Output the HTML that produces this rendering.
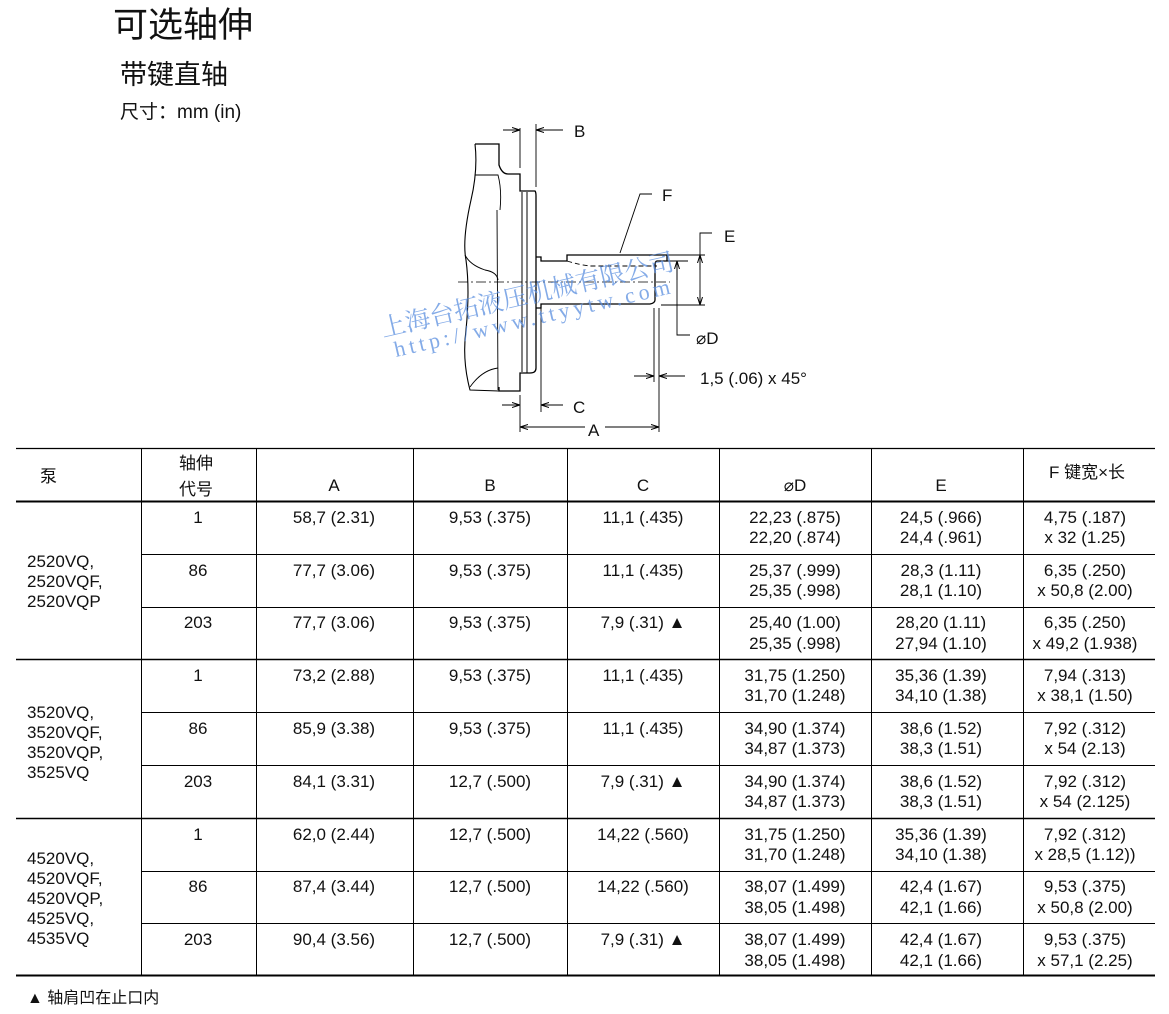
<!DOCTYPE html>
<html><head><meta charset="utf-8"><style>
html,body{margin:0;padding:0;background:#fff;}
svg{display:block;font-family:"Liberation Sans","Noto Sans CJK SC",sans-serif;}
</style></head><body>
<svg width="1169" height="1014" viewBox="0 0 1169 1014" xmlns="http://www.w3.org/2000/svg">
<defs>
<marker id="ar" markerWidth="8" markerHeight="6" refX="8" refY="3" orient="auto" markerUnits="userSpaceOnUse"><path d="M0,0.5 L8,3 L0,5.5" fill="none" stroke="#000" stroke-width="1"/></marker>
</defs>
<g fill="#111">
<text x="113" y="37" font-size="35">可选轴伸</text>
<text x="120" y="84" font-size="27">带键直轴</text>
<text x="120" y="118" font-size="19">尺寸：mm (in)</text>
</g>
<!-- drawing -->
<g fill="none" stroke="#000" stroke-width="1.3">
<path d="M475,144 L499,144 L499,165 Q502,174 508,174 L520,174 L520,191 L535,191 Q536,192 536,196 L536,368 Q536,373 530,373 L520,373 L520,391 L499,391 L499,387"/>
<path d="M475,144 Q478,170 471,200 Q462,240 466,260 Q470,290 466,330 Q462,360 470,390 L499,391" stroke-width="1.1"/>
<path d="M475,175 L498,175 Q502,190 500,210 M497,210 L498,390" stroke-width="0.9"/>
<path d="M465,255 Q470,265 485,270 Q497,272 498,280" stroke-width="0.9"/>
<path d="M470,387 Q482,370 498,368" stroke-width="0.9"/>
<path d="M527,192 L527,373 M522,192 L522,372" stroke-width="1"/>
<path d="M536,257 L541,257 L541,261 L567,261 L567,255 L667,255 L667,261 L657,261 Q655,261 655,266 L655,300 Q655,303 650,304 L541,304 L541,308 L536,308"/>
<path d="M567,261 Q580,265 590,266 L657,266" stroke-dasharray="5,3" stroke-width="0.9"/>
</g>
<g stroke="#000" stroke-width="0.9" fill="none">
<path d="M458,282 L670,282" stroke-dasharray="10,3,2,3" stroke-width="0.7"/>
<path d="M520,128 L520,168 M536,124 L536,187"/>
<path d="M503,130 L520,130" marker-end="url(#ar)"/>
<path d="M563,130 L536,130" marker-end="url(#ar)"/>
<path d="M520,395 L520,432 M541,308 L541,412"/>
<path d="M502,405 L520,405" marker-end="url(#ar)"/>
<path d="M563,405 L541,405" marker-end="url(#ar)"/>
<path d="M659,308 L659,432"/>
<path d="M585,427 L520,427" marker-end="url(#ar)"/>
<path d="M605,427 L659,427" marker-end="url(#ar)"/>
<path d="M654,308 L654,382"/>
<path d="M634,376 L654,376" marker-end="url(#ar)"/>
<path d="M685,376 L659,376" marker-end="url(#ar)"/>
<path d="M661,255 L705,255 M661,305 L705,305"/>
<path d="M712,233 L700,233 L700,305"/>
<path d="M700,270 L700,255" marker-end="url(#ar)"/>
<path d="M700,290 L700,305" marker-end="url(#ar)"/>
<path d="M661,261 L688,261"/>
<path d="M690,335 L677,335 L677,261"/>
<path d="M677,280 L677,261" marker-end="url(#ar)"/>
<path d="M620,253 L640,194 L652,194"/>
</g>
<g fill="#111" font-size="17">
<text x="574" y="137">B</text>
<text x="573" y="413">C</text>
<text x="588" y="436">A</text>
<text x="662" y="201">F</text>
<text x="724" y="242">E</text>
<text x="696" y="344">⌀D</text>
<text x="700" y="384">1,5 (.06) x 45°</text>
</g>
<g fill="#5b8fe0" opacity="0.75" font-family="'Liberation Serif','Noto Serif CJK SC',serif">
<text x="383" y="337" font-size="25" transform="rotate(-13 383 337)">上海台拓液压机械有限公司</text>
<text x="396" y="357" font-size="22" letter-spacing="4" transform="rotate(-13 396 357)">http://www.ttyytw.com</text>
</g>
<g stroke="#000">
<line x1="16" y1="448.5" x2="1155" y2="448.5" stroke-width="1.2"/>
<line x1="16" y1="501.5" x2="1155" y2="501.5" stroke-width="2"/>
<line x1="16" y1="659.5" x2="1155" y2="659.5" stroke-width="1.5"/>
<line x1="16" y1="818.5" x2="1155" y2="818.5" stroke-width="1.5"/>
<line x1="16" y1="975.5" x2="1155" y2="975.5" stroke-width="2"/>
<g stroke-width="1">
<line x1="141" y1="554.5" x2="1155" y2="554.5"/><line x1="141" y1="607.5" x2="1155" y2="607.5"/>
<line x1="141" y1="712.5" x2="1155" y2="712.5"/><line x1="141" y1="765.5" x2="1155" y2="765.5"/>
<line x1="141" y1="871.5" x2="1155" y2="871.5"/><line x1="141" y1="923.5" x2="1155" y2="923.5"/>
<line x1="141.5" y1="448" x2="141.5" y2="975"/><line x1="256.5" y1="448" x2="256.5" y2="975"/>
<line x1="413.5" y1="448" x2="413.5" y2="975"/><line x1="567.5" y1="448" x2="567.5" y2="975"/>
<line x1="719.5" y1="448" x2="719.5" y2="975"/><line x1="871.5" y1="448" x2="871.5" y2="975"/>
<line x1="1023.5" y1="448" x2="1023.5" y2="975"/>
</g>
</g>
<g fill="#111" font-size="17" text-anchor="middle">
<text x="40" y="482" text-anchor="start">泵</text>
<text x="196" y="469">轴伸</text><text x="196" y="495">代号</text>
<text x="334" y="491">A</text><text x="490" y="491">B</text><text x="643" y="491">C</text>
<text x="795" y="491">⌀D</text><text x="941" y="491">E</text><text x="1087" y="478">F 键宽×长</text>
<text x="198" y="523">1</text><text x="334" y="523">58,7 (2.31)</text><text x="490" y="523">9,53 (.375)</text><text x="643" y="523">11,1 (.435)</text>
<text x="795" y="523">22,23 (.875)</text><text x="795" y="543">22,20 (.874)</text><text x="941" y="523">24,5 (.966)</text><text x="941" y="543">24,4 (.961)</text><text x="1085" y="523">4,75 (.187)</text><text x="1085" y="543">x 32 (1.25)</text>
<text x="198" y="576">86</text><text x="334" y="576">77,7 (3.06)</text><text x="490" y="576">9,53 (.375)</text><text x="643" y="576">11,1 (.435)</text>
<text x="795" y="576">25,37 (.999)</text><text x="795" y="596">25,35 (.998)</text><text x="941" y="576">28,3 (1.11)</text><text x="941" y="596">28,1 (1.10)</text><text x="1085" y="576">6,35 (.250)</text><text x="1085" y="596">x 50,8 (2.00)</text>
<text x="198" y="628">203</text><text x="334" y="628">77,7 (3.06)</text><text x="490" y="628">9,53 (.375)</text><text x="643" y="628">7,9 (.31) ▲</text>
<text x="795" y="628">25,40 (1.00)</text><text x="795" y="649">25,35 (.998)</text><text x="941" y="628">28,20 (1.11)</text><text x="941" y="649">27,94 (1.10)</text><text x="1085" y="628">6,35 (.250)</text><text x="1085" y="649">x 49,2 (1.938)</text>
<text x="198" y="681">1</text><text x="334" y="681">73,2 (2.88)</text><text x="490" y="681">9,53 (.375)</text><text x="643" y="681">11,1 (.435)</text>
<text x="795" y="681">31,75 (1.250)</text><text x="795" y="701">31,70 (1.248)</text><text x="941" y="681">35,36 (1.39)</text><text x="941" y="701">34,10 (1.38)</text><text x="1085" y="681">7,94 (.313)</text><text x="1085" y="701">x 38,1 (1.50)</text>
<text x="198" y="734">86</text><text x="334" y="734">85,9 (3.38)</text><text x="490" y="734">9,53 (.375)</text><text x="643" y="734">11,1 (.435)</text>
<text x="795" y="734">34,90 (1.374)</text><text x="795" y="754">34,87 (1.373)</text><text x="941" y="734">38,6 (1.52)</text><text x="941" y="754">38,3 (1.51)</text><text x="1085" y="734">7,92 (.312)</text><text x="1085" y="754">x 54 (2.13)</text>
<text x="198" y="787">203</text><text x="334" y="787">84,1 (3.31)</text><text x="490" y="787">12,7 (.500)</text><text x="643" y="787">7,9 (.31) ▲</text>
<text x="795" y="787">34,90 (1.374)</text><text x="795" y="807">34,87 (1.373)</text><text x="941" y="787">38,6 (1.52)</text><text x="941" y="807">38,3 (1.51)</text><text x="1085" y="787">7,92 (.312)</text><text x="1085" y="807">x 54 (2.125)</text>
<text x="198" y="840">1</text><text x="334" y="840">62,0 (2.44)</text><text x="490" y="840">12,7 (.500)</text><text x="643" y="840">14,22 (.560)</text>
<text x="795" y="840">31,75 (1.250)</text><text x="795" y="860">31,70 (1.248)</text><text x="941" y="840">35,36 (1.39)</text><text x="941" y="860">34,10 (1.38)</text><text x="1085" y="840">7,92 (.312)</text><text x="1085" y="860">x 28,5 (1.12))</text>
<text x="198" y="892">86</text><text x="334" y="892">87,4 (3.44)</text><text x="490" y="892">12,7 (.500)</text><text x="643" y="892">14,22 (.560)</text>
<text x="795" y="892">38,07 (1.499)</text><text x="795" y="913">38,05 (1.498)</text><text x="941" y="892">42,4 (1.67)</text><text x="941" y="913">42,1 (1.66)</text><text x="1085" y="892">9,53 (.375)</text><text x="1085" y="913">x 50,8 (2.00)</text>
<text x="198" y="945">203</text><text x="334" y="945">90,4 (3.56)</text><text x="490" y="945">12,7 (.500)</text><text x="643" y="945">7,9 (.31) ▲</text>
<text x="795" y="945">38,07 (1.499)</text><text x="795" y="966">38,05 (1.498)</text><text x="941" y="945">42,4 (1.67)</text><text x="941" y="966">42,1 (1.66)</text><text x="1085" y="945">9,53 (.375)</text><text x="1085" y="966">x 57,1 (2.25)</text>
</g>
<g fill="#111" font-size="17">
<text x="27" y="567">2520VQ,</text><text x="27" y="587">2520VQF,</text><text x="27" y="607">2520VQP</text>
<text x="27" y="718">3520VQ,</text><text x="27" y="738">3520VQF,</text><text x="27" y="758">3520VQP,</text><text x="27" y="778">3525VQ</text>
<text x="27" y="864">4520VQ,</text><text x="27" y="884">4520VQF,</text><text x="27" y="904">4520VQP,</text><text x="27" y="924">4525VQ,</text><text x="27" y="944">4535VQ</text>
<text x="27" y="1003" font-size="16">▲  轴肩凹在止口内</text>
</g>
</svg>
</body></html>
